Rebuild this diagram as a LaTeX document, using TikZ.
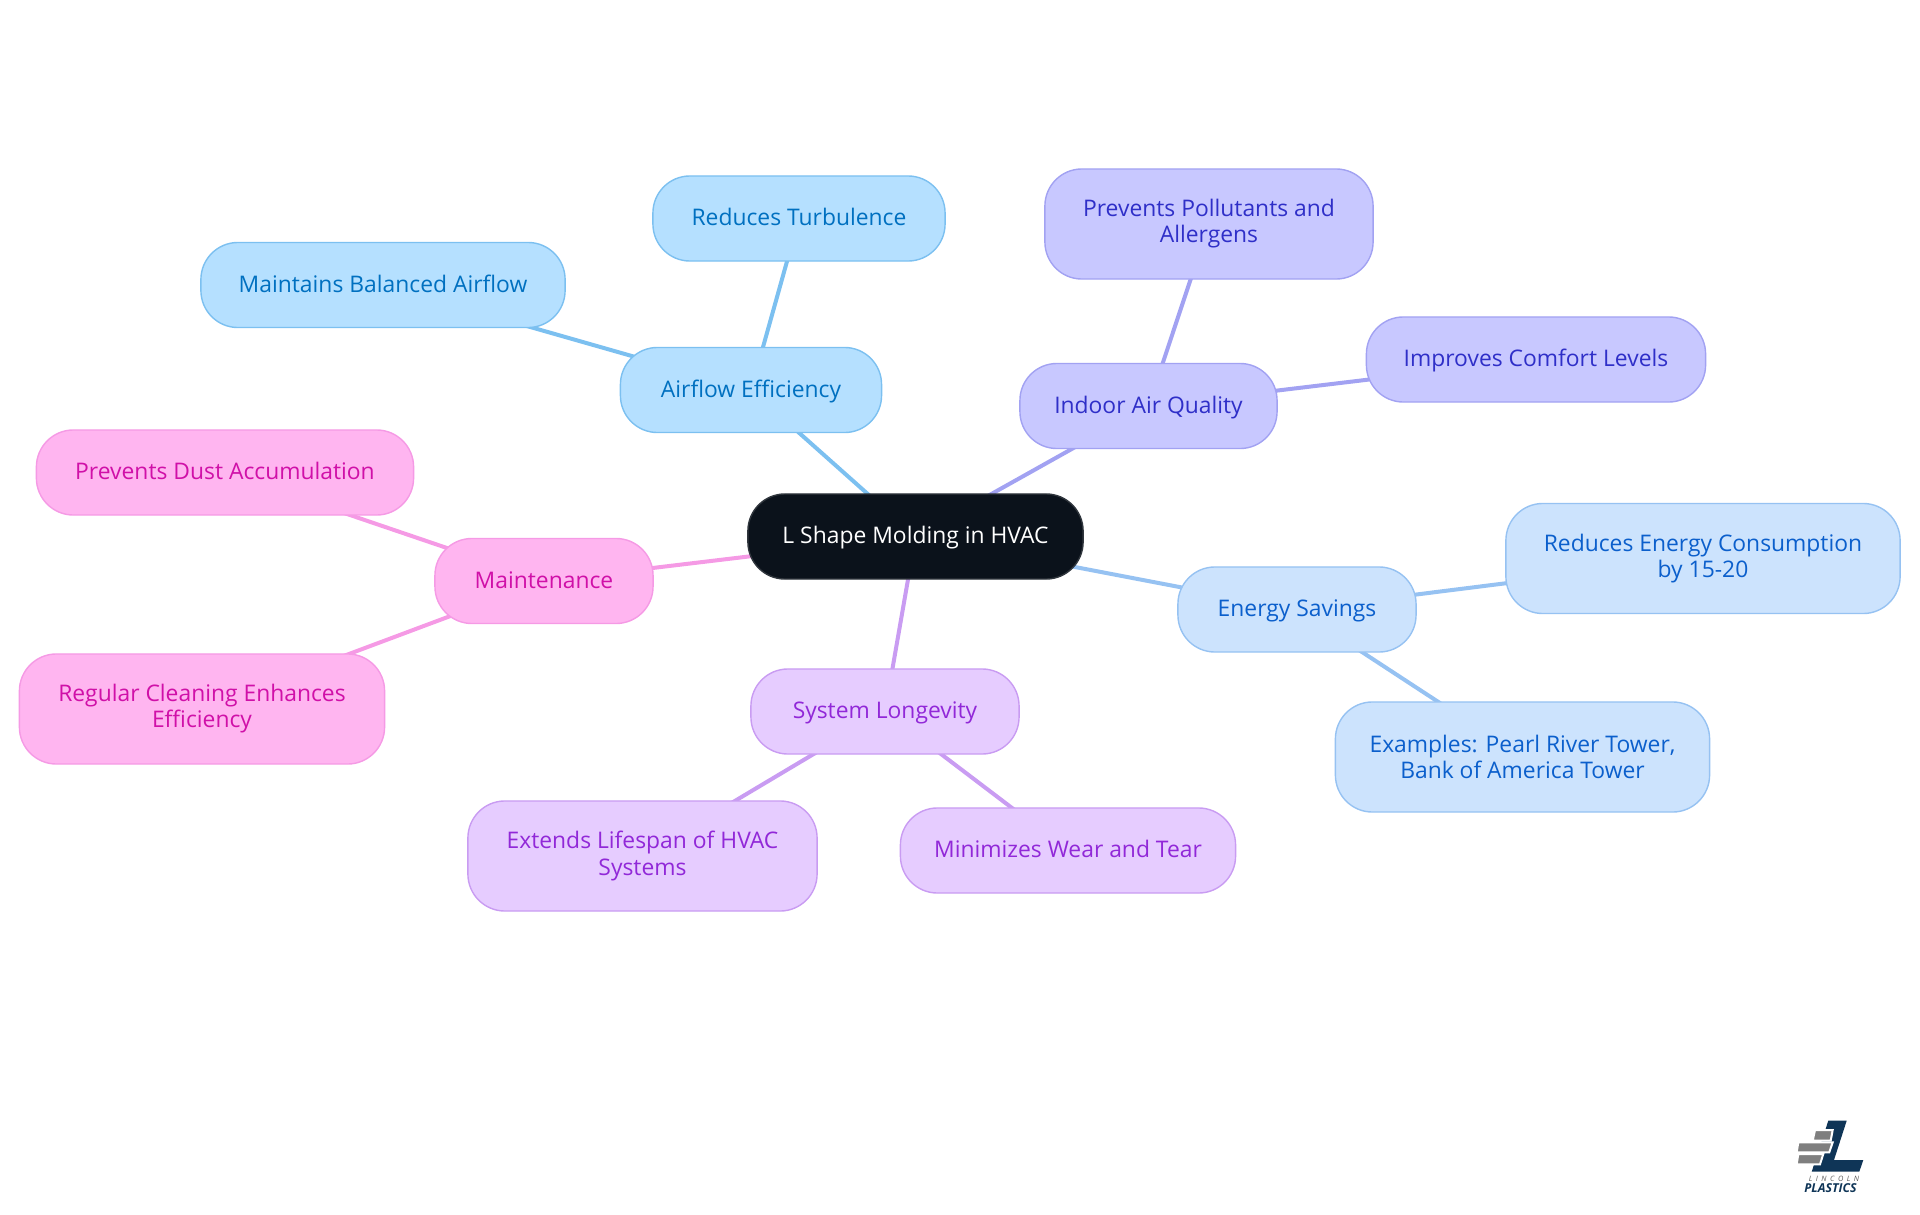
\documentclass[tikz,border=0pt]{standalone}
\usepackage{fontspec}
\setmainfont{Open Sans}
\usetikzlibrary{backgrounds}
\definecolor{rootfill}{HTML}{0B121B}
\definecolor{airfill}{HTML}{B5E0FF}
\definecolor{airline}{HTML}{7CC0F0}
\definecolor{airtext}{HTML}{0070C0}
\definecolor{iaqfill}{HTML}{C8C8FF}
\definecolor{iaqline}{HTML}{A2A2F2}
\definecolor{iaqtext}{HTML}{2F2FC8}
\definecolor{engfill}{HTML}{CCE3FD}
\definecolor{engline}{HTML}{96C2F2}
\definecolor{engtext}{HTML}{0B5FCC}
\definecolor{sysfill}{HTML}{E6CCFF}
\definecolor{sysline}{HTML}{C99CF2}
\definecolor{systext}{HTML}{9128D8}
\definecolor{mntfill}{HTML}{FFB5F0}
\definecolor{mntline}{HTML}{F59AE5}
\definecolor{mnttext}{HTML}{D010A8}
\definecolor{logoblue}{HTML}{0F3557}
\definecolor{logogrey}{HTML}{7F7F7F}
\tikzset{
  mapbox/.style={rounded corners=0.37cm, align=center, inner sep=0pt, line width=0.4pt,
    minimum height=0.85cm, text height=5pt, text depth=1pt, font=\fontsize{6.5}{7.4}\selectfont},
  rootbox/.style={mapbox, draw=rootfill!85!white, fill=rootfill, text=white},
  airbox/.style={mapbox, draw=airline, fill=airfill, text=airtext},
  iaqbox/.style={mapbox, draw=iaqline, fill=iaqfill, text=iaqtext},
  engbox/.style={mapbox, draw=engline, fill=engfill, text=engtext},
  sysbox/.style={mapbox, draw=sysline, fill=sysfill, text=systext},
  mntbox/.style={mapbox, draw=mntline, fill=mntfill, text=mnttext},
  twoline/.style={minimum height=1.1cm, text height=, text depth=},
  branch/.style={line width=0.04cm}
}
\begin{document}
\begin{tikzpicture}[x=0.01cm, y=-0.01cm]
\useasboundingbox (0,0) rectangle (1920,1215);
% Centre
\node[rootbox, minimum width=3.35cm, minimum height=0.85cm] (root) at (915.5,536.5) {L Shape Molding in HVAC};

% Airflow branch
\node[airbox, minimum width=2.61cm] (airflow) at (751,390) {Airflow Efficiency};
\node[airbox, minimum width=2.92cm] (turbulence) at (799,218.5) {Reduces Turbulence};
\node[airbox, minimum width=3.64cm] (balanced) at (383,285) {Maintains Balanced Airflow};

% Air quality branch
\node[iaqbox, minimum width=2.57cm] (quality) at (1148.5,406) {Indoor Air Quality};
\node[iaqbox, twoline, minimum width=3.28cm] (pollutants) at (1209,224) {Prevents Pollutants and\\Allergens};
\node[iaqbox, minimum width=3.39cm] (comfort) at (1536,359.5) {Improves Comfort Levels};

% Energy branch
\node[engbox, minimum width=2.38cm] (energy) at (1297,609.5) {Energy Savings};
\node[engbox, twoline, minimum width=3.94cm] (consumption) at (1703,558.5) {Reduces Energy Consumption\\by 15-20};
\node[engbox, twoline, minimum width=3.74cm] (examples) at (1522.5,757) {Examples: Pearl River Tower,\\Bank of America Tower};

% Longevity branch
\node[sysbox, minimum width=2.68cm] (longevity) at (885,711.5) {System Longevity};
\node[sysbox, twoline, minimum width=3.49cm] (lifespan) at (642.5,856) {Extends Lifespan of HVAC\\Systems};
\node[sysbox, minimum width=3.35cm] (wear) at (1068,850.5) {Minimizes Wear and Tear};

% Maintenance branch
\node[mntbox, minimum width=2.18cm] (maintenance) at (544,581) {Maintenance};
\node[mntbox, minimum width=3.77cm] (dust) at (225,472.5) {Prevents Dust Accumulation};
\node[mntbox, twoline, minimum width=3.65cm] (cleaning) at (202,709) {Regular Cleaning Enhances\\Efficiency};

% Connectors run centre to centre, behind the boxes
\begin{pgfonlayer}{background}
\draw[branch, airline] (root.center) -- (airflow.center);
\draw[branch, airline] (airflow.center) -- (turbulence.center);
\draw[branch, airline] (airflow.center) -- (balanced.center);
\draw[branch, iaqline] (root.center) -- (quality.center);
\draw[branch, iaqline] (quality.center) -- (pollutants.center);
\draw[branch, iaqline] (quality.center) -- (comfort.center);
\draw[branch, engline] (root.center) -- (energy.center);
\draw[branch, engline] (energy.center) -- (consumption.center);
\draw[branch, engline] (energy.center) -- (examples.center);
\draw[branch, sysline] (root.center) -- (longevity.center);
\draw[branch, sysline] (longevity.center) -- (lifespan.center);
\draw[branch, sysline] (longevity.center) -- (wear.center);
\draw[branch, mntline] (root.center) -- (maintenance.center);
\draw[branch, mntline] (maintenance.center) -- (dust.center);
\draw[branch, mntline] (maintenance.center) -- (cleaning.center);
\end{pgfonlayer}

% Logo
\fill[logoblue] (1828.3,1120.7) -- (1846.7,1120.7) -- (1834,1160) -- (1863.3,1160) -- (1859.3,1171.7) -- (1811.7,1171.7) -- cycle;
\fill[logogrey, draw=white, line width=0.02cm] (1815,1130) -- (1832.7,1130) -- (1830.7,1140.7) -- (1812.7,1140.7) -- cycle;
\fill[logogrey, draw=white, line width=0.02cm] (1798.3,1142.3) -- (1832.7,1142.3) -- (1829.3,1152.3) -- (1796.7,1152.3) -- cycle;
\fill[logogrey, draw=white, line width=0.02cm] (1798.3,1154) -- (1823.3,1154) -- (1820,1164.3) -- (1796.7,1164.3) -- cycle;
\node[inner sep=0pt, text=logogrey!70!black, font=\itshape\fontsize{2.1}{2.5}\selectfont] (logotop) at (1834,1178.5) {L\hspace{1pt}I\hspace{1pt}N\hspace{1pt}C\hspace{1pt}O\hspace{1pt}L\hspace{1pt}N};
\node[inner sep=0pt, text=logoblue, font=\bfseries\itshape\fontsize{3.5}{4}\selectfont] (logomark) at (1830.5,1188.5) {PLASTICS};
\end{tikzpicture}
\end{document}
